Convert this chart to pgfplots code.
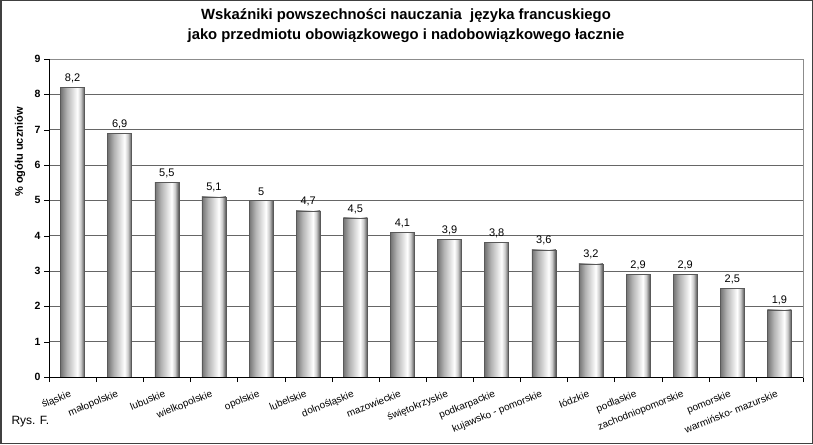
\documentclass[border=0pt]{standalone}
\usepackage{fontspec}
\setmainfont{Liberation Sans}
\usepackage{pgfplots}
\pgfplotsset{compat=1.18}
\pgfdeclarehorizontalshading{barshade}{100bp}{color(0bp)=(black!55); color(25bp)=(black!55); color(38bp)=(black!30); color(60bp)=(white); color(67bp)=(black!20); color(75bp)=(black!68); color(100bp)=(black!68)}
\pgfplotsset{onebar/.style={ybar, bar width=24pt, bar shift=0pt, draw=black!65, line width=0.5pt, shading=barshade,
  nodes near coords,
  every node near coord/.append style={font=\fontsize{11}{13}\selectfont, text=black, anchor=south, yshift=1pt}}}
\begin{document}
\begin{tikzpicture}[x=1pt,y=1pt]
\draw[black!75, line width=1.5pt] (0.75,0.75) rectangle (812.25,443.25);
\node[align=center, font=\fontsize{14.8}{20}\selectfont\bfseries] at (406,418) {Wskaźniki powszechności nauczania\ \ języka francuskiego\\jako przedmiotu obowiązkowego i nadobowiązkowego łacznie};
\node[rotate=90, font=\fontsize{11}{13}\selectfont\bfseries] at (20,292) {\% ogółu uczniów};
\node[anchor=west, font=\fontsize{12}{14}\selectfont] at (8,22.5) {Rys. F.};
\begin{axis}[
  at={(49pt,67pt)}, anchor=south west,
  scale only axis, width=754pt, height=318pt,
  ymin=0, ymax=9, ytick={0,...,9},
  xmin=-0.5, xmax=15.5,
  xtick={0,...,15},
  xticklabels={śląskie, małopolskie, lubuskie, wielkopolskie, opolskie, lubelskie, dolnośląskie, mazowieckie, świętokrzyskie, podkarpackie, kujawsko - pomorskie, łódzkie, podlaskie, zachodniopomorskie, pomorskie, warmińsko- mazurskie},
  minor xtick={-0.5,0.5,...,15.5},
  xtick pos=bottom, ytick pos=left,
  tick align=outside,
  major tick length=5pt, minor tick length=5pt,
  major x tick style={draw=none},
  minor x tick style={black},
  ytick style={black},
  ymajorgrids,
  major grid style={black!60, line width=0.6pt},
  axis line style={black!45, line width=0.8pt},
  /pgf/number format/assume math mode=true,
  /pgf/number format/use comma,
  yticklabel style={font=\fontsize{10.5}{12}\selectfont\bfseries},
  xticklabel style={font=\fontsize{10}{12}\selectfont, rotate=22, anchor=north east, inner sep=1pt, yshift=-4.5pt, xshift=-5pt},
  clip=false,
]
\addplot[onebar] coordinates {(0,8.2)};
\addplot[onebar] coordinates {(1,6.9)};
\addplot[onebar] coordinates {(2,5.5)};
\addplot[onebar] coordinates {(3,5.1)};
\addplot[onebar] coordinates {(4,5)};
\addplot[onebar] coordinates {(5,4.7)};
\addplot[onebar] coordinates {(6,4.5)};
\addplot[onebar] coordinates {(7,4.1)};
\addplot[onebar] coordinates {(8,3.9)};
\addplot[onebar] coordinates {(9,3.8)};
\addplot[onebar] coordinates {(10,3.6)};
\addplot[onebar] coordinates {(11,3.2)};
\addplot[onebar] coordinates {(12,2.9)};
\addplot[onebar] coordinates {(13,2.9)};
\addplot[onebar] coordinates {(14,2.5)};
\addplot[onebar] coordinates {(15,1.9)};
\draw[black, line width=0.8pt] (rel axis cs:0,1) -- (rel axis cs:0,0) -- (rel axis cs:1,0);
\end{axis}
\end{tikzpicture}
\end{document}
